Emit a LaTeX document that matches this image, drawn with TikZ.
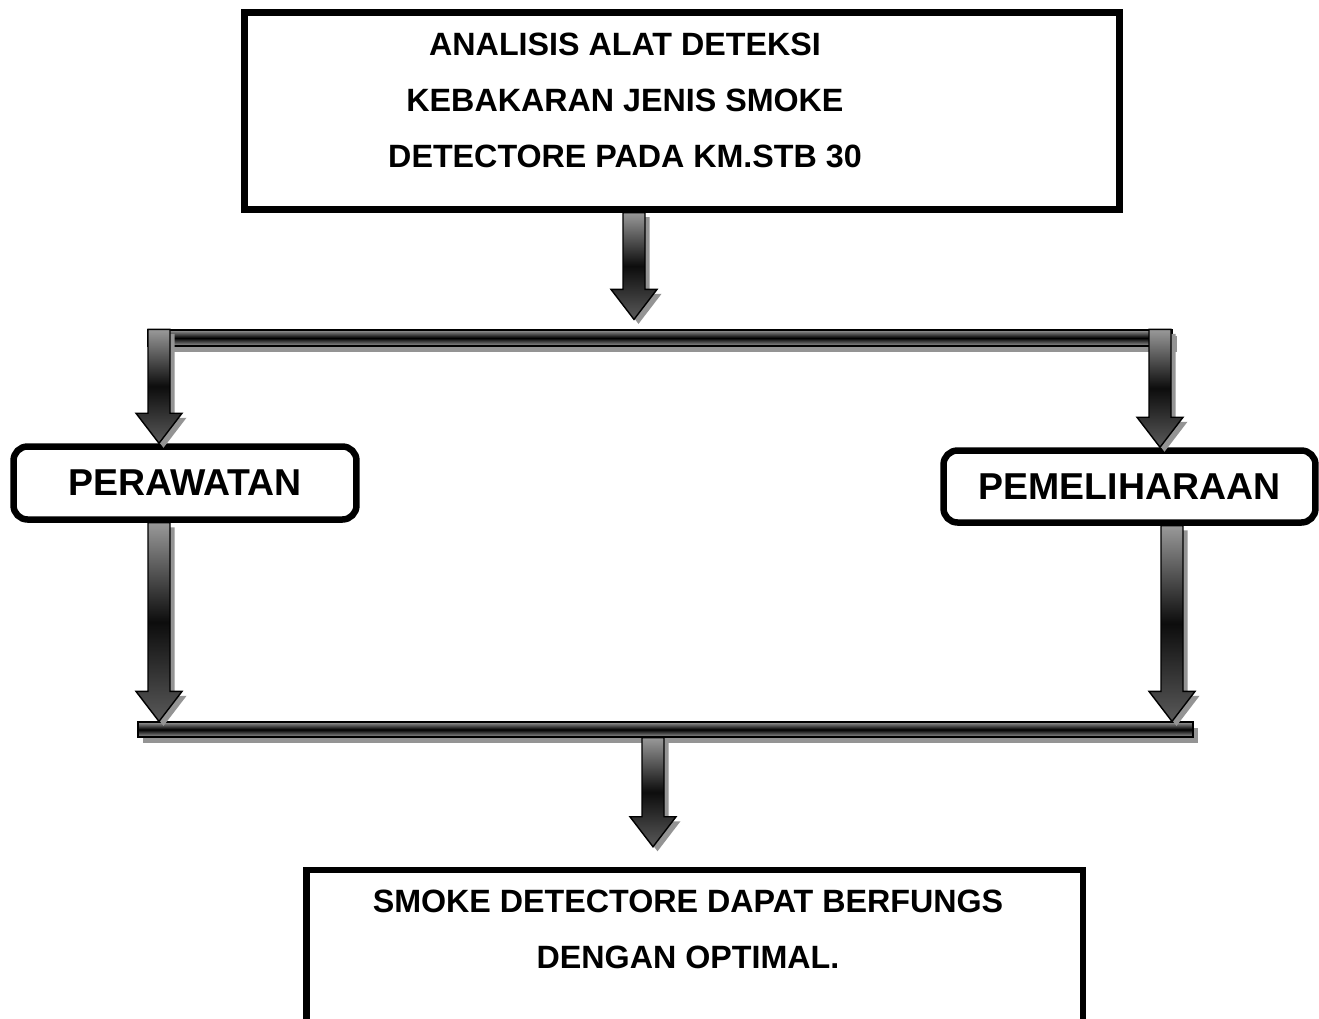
\documentclass[tikz,border=0pt]{standalone}
\usepackage{fontspec}
\setmainfont{Liberation Sans}
\usetikzlibrary{calc,shadows}

\newcommand{\blockarrow}[2]{%
  \path[blockarrow] ($(#1)+(-11,0)$) -- ($(#1)+(11,0)$) -- ($(#2)+(11,-30)$)
    -- ($(#2)+(23,-30)$) -- (#2) -- ($(#2)+(-23,-30)$) -- ($(#2)+(-11,-30)$) -- cycle;}

\begin{document}
\begin{tikzpicture}[x=0.02cm, y=-0.02cm,
  box/.style={rectangle, draw=black, line width=0.13cm, fill=white, inner sep=0pt},
  tag/.style={box, rounded corners=0.28cm, font=\fontsize{21.3}{25}\selectfont\bfseries},
  boxtext/.style={font=\fontsize{18.35}{31.9}\selectfont\bfseries, align=center, inner sep=0pt},
  splitbar/.style={rectangle, draw=black, line width=0.7pt, inner sep=0pt,
    top color=black!40, bottom color=black!40, middle color=black,
    drop shadow={shadow xshift=0.1cm, shadow yshift=-0.12cm, fill=black!42, opacity=1}},
  blockarrow/.style={draw=black, line width=0.8pt,
    top color=black!40, bottom color=black!65, middle color=black!95,
    drop shadow={shadow xshift=0.09cm, shadow yshift=-0.09cm, fill=black!42, opacity=1}}]
\useasboundingbox (0,0) rectangle (1319,1018);
\clip (0,0) rectangle (1319,1018);
% boxes
\node[box, minimum width=17.5cm, minimum height=3.94cm] (top) at (682,111) {};
\node[boxtext] (toptext) at (625,100) {ANALISIS ALAT DETEKSI\\KEBAKARAN JENIS SMOKE\\DETECTORE PADA KM.STB 30};
\node[tag, minimum width=6.86cm, minimum height=1.46cm] (perawatan) at (185,483) {PERAWATAN};
\node[tag, minimum width=7.44cm, minimum height=1.44cm] (pemeliharaan) at (1129.5,486.5) {PEMELIHARAAN};
\node[box, minimum width=15.53cm, minimum height=3.4cm] (result) at (694.75,955) {};
\node[boxtext] (resulttext) at (688,929.5) {SMOKE DETECTORE DAPAT BERFUNGS\\DENGAN OPTIMAL.};
% split and join bars
\node[splitbar, minimum width=20.48cm, minimum height=0.32cm] (split) at (660,338) {};
\node[splitbar, minimum width=21.1cm, minimum height=0.3cm] (join) at (665.5,729.5) {};
% arrow columns
\coordinate (xa) at (634,0);
\coordinate (xl) at (159,0);
\coordinate (xr) at (1160,0);
\coordinate (xr2) at (1172,0);
\coordinate (xb) at (653,0);
\coordinate (tipa) at ($(split.north -| xa)+(0,-10)$);
\coordinate (tipb) at ($(result.north -| xb)+(0,-20)$);
\blockarrow{top.south -| xa}{tipa}
\blockarrow{split.north -| xl}{perawatan.north -| xl}
\blockarrow{split.north -| xr}{pemeliharaan.north -| xr}
\blockarrow{perawatan.south -| xl}{join.north -| xl}
\blockarrow{pemeliharaan.south -| xr2}{join.north -| xr2}
\blockarrow{join.south -| xb}{tipb}
\end{tikzpicture}
\end{document}
